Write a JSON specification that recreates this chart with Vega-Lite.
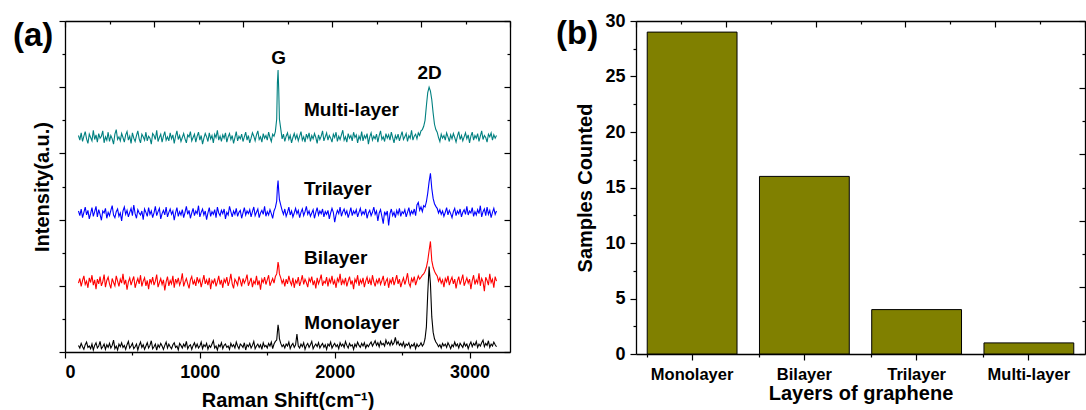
{
  "$schema": "https://vega.github.io/schema/vega-lite/v6.json",
  "background": "white",
  "padding": {"left": 12, "top": 12, "right": 0, "bottom": 0},
  "spacing": 45,
  "config": {
    "view": {"stroke": null},
    "font": "Liberation Sans",
    "axis": {"domainColor": "black", "tickColor": "black", "labelColor": "black", "titleColor": "black", "labelFont": "Liberation Sans", "titleFont": "Liberation Sans", "labelFontWeight": "bold", "titleFontWeight": "bold", "grid": false, "domainWidth": 1.3, "tickWidth": 1.2, "titleFontSize": 20, "labelFontSize": 18}
  },
  "datasets": {
    "raman": [
      {"x":100,"M":0.10,"B":1.04,"T":2.13,"U":3.27},
      {"x":110,"M":0.06,"B":1.11,"T":2.06,"U":3.20},
      {"x":120,"M":0.13,"B":0.99,"T":2.16,"U":3.31},
      {"x":130,"M":0.08,"B":1.08,"T":2.03,"U":3.18},
      {"x":140,"M":0.04,"B":1.15,"T":2.11,"U":3.26},
      {"x":150,"M":0.11,"B":1.02,"T":2.19,"U":3.33},
      {"x":160,"M":0.15,"B":1.07,"T":2.07,"U":3.22},
      {"x":170,"M":0.07,"B":0.97,"T":2.14,"U":3.15},
      {"x":180,"M":0.09,"B":1.12,"T":2.01,"U":3.29},
      {"x":190,"M":0.05,"B":1.05,"T":2.09,"U":3.24},
      {"x":200,"M":0.12,"B":1.16,"T":2.18,"U":3.19},
      {"x":210,"M":0.03,"B":1.01,"T":2.05,"U":3.35},
      {"x":220,"M":0.10,"B":1.09,"T":2.12,"U":3.21},
      {"x":230,"M":0.14,"B":0.95,"T":2.20,"U":3.28},
      {"x":240,"M":0.06,"B":1.10,"T":2.04,"U":3.17},
      {"x":250,"M":0.09,"B":1.03,"T":2.15,"U":3.30},
      {"x":260,"M":0.16,"B":1.14,"T":2.08,"U":3.23},
      {"x":270,"M":0.05,"B":1.00,"T":1.99,"U":3.26},
      {"x":280,"M":0.08,"B":1.06,"T":2.13,"U":3.34},
      {"x":290,"M":0.12,"B":1.17,"T":2.10,"U":3.16},
      {"x":300,"M":0.04,"B":0.98,"T":2.17,"U":3.25},
      {"x":310,"M":0.11,"B":1.08,"T":2.02,"U":3.20},
      {"x":320,"M":0.07,"B":1.13,"T":2.11,"U":3.32},
      {"x":330,"M":0.13,"B":1.03,"T":2.06,"U":3.18},
      {"x":340,"M":0.06,"B":0.96,"T":2.14,"U":3.27},
      {"x":350,"M":0.10,"B":1.11,"T":2.21,"U":3.22},
      {"x":360,"M":0.18,"B":1.05,"T":2.07,"U":3.14},
      {"x":370,"M":0.05,"B":1.00,"T":2.03,"U":3.29},
      {"x":380,"M":0.09,"B":1.15,"T":2.12,"U":3.36},
      {"x":390,"M":0.03,"B":1.07,"T":2.16,"U":3.21},
      {"x":400,"M":0.12,"B":0.99,"T":2.05,"U":3.25},
      {"x":410,"M":0.08,"B":1.10,"T":2.10,"U":3.19},
      {"x":420,"M":0.14,"B":1.04,"T":1.98,"U":3.30},
      {"x":430,"M":0.07,"B":1.18,"T":2.13,"U":3.24},
      {"x":440,"M":0.10,"B":1.02,"T":2.19,"U":3.17},
      {"x":450,"M":0.04,"B":1.09,"T":2.08,"U":3.28},
      {"x":460,"M":0.11,"B":0.94,"T":2.14,"U":3.33},
      {"x":470,"M":0.16,"B":1.06,"T":2.04,"U":3.20},
      {"x":480,"M":0.06,"B":1.12,"T":2.11,"U":3.26},
      {"x":490,"M":0.09,"B":1.01,"T":2.17,"U":3.15},
      {"x":500,"M":0.13,"B":1.08,"T":2.06,"U":3.31},
      {"x":510,"M":0.05,"B":1.14,"T":2.22,"U":3.23},
      {"x":520,"M":0.08,"B":0.97,"T":2.09,"U":3.18},
      {"x":530,"M":0.12,"B":1.05,"T":2.02,"U":3.27},
      {"x":540,"M":0.03,"B":1.11,"T":2.15,"U":3.34},
      {"x":550,"M":0.10,"B":1.03,"T":2.10,"U":3.22},
      {"x":560,"M":0.15,"B":1.16,"T":2.07,"U":3.16},
      {"x":570,"M":0.07,"B":0.99,"T":2.13,"U":3.29},
      {"x":580,"M":0.11,"B":1.07,"T":2.00,"U":3.25},
      {"x":590,"M":0.04,"B":1.12,"T":2.16,"U":3.20},
      {"x":600,"M":0.09,"B":1.00,"T":2.11,"U":3.32},
      {"x":610,"M":0.14,"B":1.08,"T":2.05,"U":3.19},
      {"x":620,"M":0.06,"B":0.95,"T":2.18,"U":3.26},
      {"x":630,"M":0.10,"B":1.10,"T":2.08,"U":3.23},
      {"x":640,"M":0.17,"B":1.04,"T":2.13,"U":3.14},
      {"x":650,"M":0.05,"B":1.13,"T":2.03,"U":3.30},
      {"x":660,"M":0.08,"B":1.01,"T":2.10,"U":3.27},
      {"x":670,"M":0.12,"B":1.07,"T":2.20,"U":3.21},
      {"x":680,"M":0.03,"B":1.17,"T":2.06,"U":3.35},
      {"x":690,"M":0.11,"B":0.98,"T":2.12,"U":3.18},
      {"x":700,"M":0.07,"B":1.05,"T":2.17,"U":3.24},
      {"x":710,"M":0.13,"B":1.11,"T":2.01,"U":3.29},
      {"x":720,"M":0.09,"B":1.02,"T":2.09,"U":3.17},
      {"x":730,"M":0.04,"B":1.09,"T":2.14,"U":3.26},
      {"x":740,"M":0.10,"B":0.93,"T":2.07,"U":3.33},
      {"x":750,"M":0.15,"B":1.06,"T":2.19,"U":3.20},
      {"x":760,"M":0.06,"B":1.14,"T":2.04,"U":3.25},
      {"x":770,"M":0.12,"B":1.00,"T":2.11,"U":3.19},
      {"x":780,"M":0.08,"B":1.08,"T":2.16,"U":3.31},
      {"x":790,"M":0.05,"B":1.03,"T":2.08,"U":3.22},
      {"x":800,"M":0.11,"B":1.15,"T":2.13,"U":3.28},
      {"x":810,"M":0.14,"B":0.97,"T":1.99,"U":3.15},
      {"x":820,"M":0.07,"B":1.10,"T":2.10,"U":3.26},
      {"x":830,"M":0.09,"B":1.04,"T":2.18,"U":3.34},
      {"x":840,"M":0.03,"B":1.12,"T":2.05,"U":3.21},
      {"x":850,"M":0.13,"B":1.01,"T":2.12,"U":3.27},
      {"x":860,"M":0.10,"B":1.07,"T":2.07,"U":3.18},
      {"x":870,"M":0.06,"B":1.19,"T":2.15,"U":3.24},
      {"x":880,"M":0.12,"B":0.99,"T":2.03,"U":3.30},
      {"x":890,"M":0.08,"B":1.06,"T":2.11,"U":3.22},
      {"x":900,"M":0.16,"B":1.11,"T":2.20,"U":3.16},
      {"x":910,"M":0.05,"B":1.03,"T":2.08,"U":3.28},
      {"x":920,"M":0.09,"B":0.96,"T":2.14,"U":3.25},
      {"x":930,"M":0.11,"B":1.09,"T":2.02,"U":3.33},
      {"x":940,"M":0.04,"B":1.14,"T":2.10,"U":3.19},
      {"x":950,"M":0.10,"B":1.02,"T":2.17,"U":3.24},
      {"x":960,"M":0.14,"B":1.08,"T":2.06,"U":3.29},
      {"x":970,"M":0.07,"B":1.00,"T":2.13,"U":3.17},
      {"x":980,"M":0.12,"B":1.13,"T":2.09,"U":3.26},
      {"x":990,"M":0.06,"B":1.05,"T":2.21,"U":3.32},
      {"x":1000,"M":0.09,"B":1.10,"T":2.04,"U":3.20},
      {"x":1010,"M":0.15,"B":0.98,"T":2.11,"U":3.27},
      {"x":1020,"M":0.05,"B":1.07,"T":2.16,"U":3.14},
      {"x":1030,"M":0.11,"B":1.16,"T":2.07,"U":3.23},
      {"x":1040,"M":0.08,"B":1.03,"T":2.13,"U":3.30},
      {"x":1050,"M":0.13,"B":1.09,"T":2.00,"U":3.25},
      {"x":1060,"M":0.04,"B":1.01,"T":2.10,"U":3.18},
      {"x":1070,"M":0.10,"B":1.12,"T":2.18,"U":3.31},
      {"x":1080,"M":0.07,"B":0.95,"T":2.05,"U":3.22},
      {"x":1090,"M":0.12,"B":1.08,"T":2.12,"U":3.27},
      {"x":1100,"M":0.17,"B":1.04,"T":2.08,"U":3.16},
      {"x":1110,"M":0.06,"B":1.11,"T":2.15,"U":3.29},
      {"x":1120,"M":0.09,"B":0.99,"T":2.03,"U":3.24},
      {"x":1130,"M":0.03,"B":1.06,"T":2.19,"U":3.35},
      {"x":1140,"M":0.11,"B":1.15,"T":2.10,"U":3.20},
      {"x":1150,"M":0.08,"B":1.02,"T":2.06,"U":3.26},
      {"x":1160,"M":0.14,"B":1.09,"T":2.14,"U":3.18},
      {"x":1170,"M":0.05,"B":0.97,"T":2.09,"U":3.28},
      {"x":1180,"M":0.10,"B":1.10,"T":2.16,"U":3.23},
      {"x":1190,"M":0.12,"B":1.05,"T":2.01,"U":3.31},
      {"x":1200,"M":0.07,"B":1.13,"T":2.11,"U":3.17},
      {"x":1210,"M":0.09,"B":1.00,"T":2.07,"U":3.25},
      {"x":1220,"M":0.04,"B":1.07,"T":2.20,"U":3.30},
      {"x":1230,"M":0.13,"B":1.18,"T":2.12,"U":3.21},
      {"x":1240,"M":0.08,"B":1.03,"T":2.04,"U":3.27},
      {"x":1250,"M":0.11,"B":0.96,"T":2.13,"U":3.15},
      {"x":1260,"M":0.06,"B":1.10,"T":2.08,"U":3.24},
      {"x":1270,"M":0.15,"B":1.06,"T":2.17,"U":3.33},
      {"x":1280,"M":0.09,"B":1.01,"T":2.05,"U":3.19},
      {"x":1290,"M":0.05,"B":1.14,"T":2.11,"U":3.26},
      {"x":1300,"M":0.12,"B":1.08,"T":2.14,"U":3.22},
      {"x":1310,"M":0.10,"B":0.99,"T":2.02,"U":3.29},
      {"x":1320,"M":0.07,"B":1.11,"T":2.10,"U":3.18},
      {"x":1330,"M":0.14,"B":1.04,"T":2.18,"U":3.25},
      {"x":1340,"M":0.03,"B":1.09,"T":2.07,"U":3.32},
      {"x":1350,"M":0.11,"B":1.17,"T":2.13,"U":3.20},
      {"x":1360,"M":0.08,"B":1.00,"T":2.09,"U":3.27},
      {"x":1370,"M":0.13,"B":1.06,"T":2.15,"U":3.16},
      {"x":1380,"M":0.06,"B":1.12,"T":2.04,"U":3.23},
      {"x":1390,"M":0.10,"B":0.98,"T":2.12,"U":3.31},
      {"x":1400,"M":0.16,"B":1.07,"T":2.19,"U":3.26},
      {"x":1410,"M":0.05,"B":1.03,"T":2.06,"U":3.19},
      {"x":1420,"M":0.09,"B":1.15,"T":2.11,"U":3.28},
      {"x":1430,"M":0.12,"B":1.01,"T":2.16,"U":3.34},
      {"x":1440,"M":0.07,"B":1.08,"T":2.03,"U":3.21},
      {"x":1450,"M":0.11,"B":0.94,"T":2.10,"U":3.25},
      {"x":1460,"M":0.04,"B":1.10,"T":2.14,"U":3.17},
      {"x":1470,"M":0.14,"B":1.05,"T":2.08,"U":3.30},
      {"x":1480,"M":0.08,"B":1.13,"T":2.20,"U":3.23},
      {"x":1490,"M":0.10,"B":1.02,"T":2.05,"U":3.27},
      {"x":1500,"M":0.06,"B":1.09,"T":2.12,"U":3.20},
      {"x":1510,"M":0.13,"B":1.16,"T":2.07,"U":3.32},
      {"x":1520,"M":0.09,"B":1.00,"T":2.15,"U":3.24},
      {"x":1530,"M":0.15,"B":1.06,"T":2.09,"U":3.18},
      {"x":1540,"M":0.05,"B":1.11,"T":2.02,"U":3.29},
      {"x":1550,"M":0.12,"B":1.04,"T":2.13,"U":3.26},
      {"x":1560,"M":0.16,"B":1.14,"T":2.18,"U":3.33},
      {"x":1570,"M":0.18,"B":1.18,"T":2.28,"U":3.52},
      {"x":1575,"M":0.30,"B":1.26,"T":2.48,"U":4.06},
      {"x":1580,"M":0.41,"B":1.36,"T":2.59,"U":4.26},
      {"x":1585,"M":0.34,"B":1.30,"T":2.43,"U":3.96},
      {"x":1590,"M":0.20,"B":1.18,"T":2.30,"U":3.52},
      {"x":1600,"M":0.13,"B":1.12,"T":2.22,"U":3.37},
      {"x":1610,"M":0.08,"B":1.04,"T":2.14,"U":3.22},
      {"x":1620,"M":0.11,"B":1.09,"T":2.08,"U":3.29},
      {"x":1630,"M":0.06,"B":0.99,"T":2.16,"U":3.18},
      {"x":1640,"M":0.12,"B":1.10,"T":2.05,"U":3.26},
      {"x":1650,"M":0.09,"B":1.03,"T":2.11,"U":3.31},
      {"x":1660,"M":0.15,"B":1.15,"T":2.19,"U":3.21},
      {"x":1670,"M":0.05,"B":1.06,"T":2.07,"U":3.27},
      {"x":1680,"M":0.10,"B":1.01,"T":2.13,"U":3.16},
      {"x":1690,"M":0.13,"B":1.12,"T":2.04,"U":3.24},
      {"x":1700,"M":0.07,"B":0.97,"T":2.10,"U":3.30},
      {"x":1710,"M":0.11,"B":1.08,"T":2.17,"U":3.22},
      {"x":1720,"M":0.27,"B":1.04,"T":2.09,"U":3.28},
      {"x":1730,"M":0.09,"B":1.13,"T":2.14,"U":3.19},
      {"x":1740,"M":0.06,"B":1.00,"T":2.03,"U":3.26},
      {"x":1750,"M":0.12,"B":1.07,"T":2.11,"U":3.33},
      {"x":1760,"M":0.08,"B":1.16,"T":2.16,"U":3.20},
      {"x":1770,"M":0.14,"B":1.02,"T":2.06,"U":3.25},
      {"x":1780,"M":0.04,"B":1.10,"T":2.12,"U":3.17},
      {"x":1790,"M":0.10,"B":1.05,"T":2.20,"U":3.29},
      {"x":1800,"M":0.13,"B":0.98,"T":2.08,"U":3.23},
      {"x":1810,"M":0.07,"B":1.11,"T":2.13,"U":3.31},
      {"x":1820,"M":0.11,"B":1.06,"T":2.05,"U":3.18},
      {"x":1830,"M":0.16,"B":1.14,"T":2.10,"U":3.27},
      {"x":1840,"M":0.05,"B":1.01,"T":2.15,"U":3.22},
      {"x":1850,"M":0.09,"B":1.08,"T":2.02,"U":3.30},
      {"x":1860,"M":0.12,"B":0.96,"T":2.11,"U":3.24},
      {"x":1870,"M":0.08,"B":1.12,"T":2.18,"U":3.15},
      {"x":1880,"M":0.14,"B":1.03,"T":2.07,"U":3.28},
      {"x":1890,"M":0.06,"B":1.09,"T":2.13,"U":3.21},
      {"x":1900,"M":0.10,"B":1.17,"T":2.09,"U":3.26},
      {"x":1910,"M":0.13,"B":1.00,"T":2.16,"U":3.34},
      {"x":1920,"M":0.07,"B":1.07,"T":2.04,"U":3.19},
      {"x":1930,"M":0.11,"B":1.04,"T":2.12,"U":3.25},
      {"x":1940,"M":0.04,"B":1.13,"T":2.08,"U":3.31},
      {"x":1950,"M":0.12,"B":0.99,"T":2.14,"U":3.20},
      {"x":1960,"M":0.09,"B":1.10,"T":2.01,"U":3.27},
      {"x":1970,"M":0.15,"B":1.05,"T":2.10,"U":3.23},
      {"x":1980,"M":0.06,"B":1.15,"T":2.17,"U":3.17},
      {"x":1990,"M":0.10,"B":1.02,"T":2.11,"U":3.29},
      {"x":2000,"M":0.13,"B":1.08,"T":1.96,"U":3.24},
      {"x":2010,"M":0.08,"B":0.97,"T":2.07,"U":3.32},
      {"x":2020,"M":0.11,"B":1.11,"T":2.14,"U":3.18},
      {"x":2030,"M":0.05,"B":1.06,"T":2.09,"U":3.26},
      {"x":2040,"M":0.14,"B":1.18,"T":2.19,"U":3.21},
      {"x":2050,"M":0.09,"B":1.01,"T":2.05,"U":3.28},
      {"x":2060,"M":0.12,"B":1.09,"T":2.12,"U":3.35},
      {"x":2070,"M":0.07,"B":1.03,"T":2.16,"U":3.20},
      {"x":2080,"M":0.16,"B":1.12,"T":2.08,"U":3.25},
      {"x":2090,"M":0.10,"B":0.99,"T":2.13,"U":3.17},
      {"x":2100,"M":0.06,"B":1.07,"T":2.03,"U":3.30},
      {"x":2110,"M":0.13,"B":1.14,"T":2.10,"U":3.23},
      {"x":2120,"M":0.09,"B":1.02,"T":2.18,"U":3.27},
      {"x":2130,"M":0.11,"B":1.08,"T":2.06,"U":3.19},
      {"x":2140,"M":0.04,"B":0.95,"T":2.13,"U":3.32},
      {"x":2150,"M":0.12,"B":1.10,"T":2.09,"U":3.24},
      {"x":2160,"M":0.08,"B":1.05,"T":2.15,"U":3.28},
      {"x":2170,"M":0.15,"B":1.16,"T":2.04,"U":3.16},
      {"x":2180,"M":0.10,"B":1.00,"T":2.11,"U":3.26},
      {"x":2190,"M":0.07,"B":1.09,"T":2.17,"U":3.21},
      {"x":2200,"M":0.13,"B":1.04,"T":2.07,"U":3.33},
      {"x":2210,"M":0.09,"B":1.12,"T":2.12,"U":3.19},
      {"x":2220,"M":0.14,"B":0.98,"T":2.08,"U":3.27},
      {"x":2230,"M":0.06,"B":1.07,"T":2.16,"U":3.23},
      {"x":2240,"M":0.11,"B":1.13,"T":2.02,"U":3.30},
      {"x":2250,"M":0.08,"B":1.03,"T":2.10,"U":3.14},
      {"x":2260,"M":0.12,"B":1.10,"T":2.14,"U":3.25},
      {"x":2270,"M":0.15,"B":1.01,"T":2.06,"U":3.31},
      {"x":2280,"M":0.09,"B":1.16,"T":2.11,"U":3.20},
      {"x":2290,"M":0.13,"B":1.06,"T":2.19,"U":3.26},
      {"x":2300,"M":0.17,"B":0.99,"T":2.08,"U":3.22},
      {"x":2310,"M":0.10,"B":1.09,"T":2.13,"U":3.29},
      {"x":2320,"M":0.14,"B":1.04,"T":1.98,"U":3.17},
      {"x":2330,"M":0.08,"B":1.12,"T":2.10,"U":3.27},
      {"x":2340,"M":0.16,"B":1.02,"T":2.15,"U":3.34},
      {"x":2350,"M":0.11,"B":1.08,"T":2.05,"U":3.21},
      {"x":2360,"M":0.13,"B":1.15,"T":1.94,"U":3.25},
      {"x":2370,"M":0.09,"B":1.00,"T":2.12,"U":3.18},
      {"x":2380,"M":0.18,"B":1.07,"T":2.07,"U":3.30},
      {"x":2390,"M":0.12,"B":1.11,"T":2.13,"U":3.23},
      {"x":2400,"M":0.15,"B":0.97,"T":1.91,"U":3.28},
      {"x":2410,"M":0.10,"B":1.09,"T":2.09,"U":3.20},
      {"x":2420,"M":0.17,"B":1.04,"T":2.16,"U":3.32},
      {"x":2430,"M":0.11,"B":1.13,"T":2.06,"U":3.24},
      {"x":2440,"M":0.14,"B":1.01,"T":2.11,"U":3.16},
      {"x":2450,"M":0.22,"B":1.08,"T":2.03,"U":3.27},
      {"x":2460,"M":0.12,"B":1.16,"T":2.14,"U":3.22},
      {"x":2470,"M":0.16,"B":1.03,"T":2.08,"U":3.29},
      {"x":2480,"M":0.10,"B":1.10,"T":2.17,"U":3.19},
      {"x":2490,"M":0.13,"B":0.98,"T":2.05,"U":3.26},
      {"x":2500,"M":0.09,"B":1.06,"T":2.12,"U":3.33},
      {"x":2510,"M":0.15,"B":1.12,"T":2.09,"U":3.21},
      {"x":2520,"M":0.07,"B":1.02,"T":2.15,"U":3.25},
      {"x":2530,"M":0.12,"B":1.09,"T":2.04,"U":3.30},
      {"x":2540,"M":0.10,"B":1.19,"T":2.11,"U":3.18},
      {"x":2550,"M":0.14,"B":1.04,"T":2.18,"U":3.27},
      {"x":2560,"M":0.06,"B":0.99,"T":2.07,"U":3.23},
      {"x":2570,"M":0.11,"B":1.11,"T":2.13,"U":3.35},
      {"x":2580,"M":0.09,"B":1.06,"T":2.09,"U":3.20},
      {"x":2590,"M":0.13,"B":1.14,"T":2.16,"U":3.26},
      {"x":2600,"M":0.05,"B":1.01,"T":2.06,"U":3.29},
      {"x":2610,"M":0.12,"B":1.08,"T":2.22,"U":3.22},
      {"x":2620,"M":0.08,"B":1.15,"T":2.26,"U":3.31},
      {"x":2630,"M":0.10,"B":1.10,"T":2.14,"U":3.27},
      {"x":2640,"M":0.14,"B":1.13,"T":2.19,"U":3.34},
      {"x":2650,"M":0.09,"B":1.16,"T":2.12,"U":3.36},
      {"x":2660,"M":0.12,"B":1.18,"T":2.21,"U":3.41},
      {"x":2670,"M":0.20,"B":1.22,"T":2.19,"U":3.50},
      {"x":2680,"M":0.38,"B":1.28,"T":2.27,"U":3.72},
      {"x":2690,"M":0.88,"B":1.38,"T":2.40,"U":3.92},
      {"x":2700,"M":1.29,"B":1.53,"T":2.57,"U":4.00},
      {"x":2710,"M":1.03,"B":1.67,"T":2.70,"U":3.94},
      {"x":2720,"M":0.53,"B":1.38,"T":2.47,"U":3.81},
      {"x":2730,"M":0.30,"B":1.28,"T":2.32,"U":3.61},
      {"x":2740,"M":0.20,"B":1.22,"T":2.24,"U":3.44},
      {"x":2750,"M":0.15,"B":1.18,"T":2.20,"U":3.36},
      {"x":2760,"M":0.12,"B":1.15,"T":2.17,"U":3.32},
      {"x":2770,"M":0.08,"B":1.07,"T":2.10,"U":3.24},
      {"x":2780,"M":0.11,"B":1.12,"T":2.15,"U":3.18},
      {"x":2790,"M":0.06,"B":1.04,"T":2.08,"U":3.29},
      {"x":2800,"M":0.13,"B":1.09,"T":2.13,"U":3.23},
      {"x":2810,"M":0.09,"B":0.98,"T":2.05,"U":3.27},
      {"x":2820,"M":0.12,"B":1.11,"T":2.11,"U":3.20},
      {"x":2830,"M":0.07,"B":1.06,"T":2.18,"U":3.31},
      {"x":2840,"M":0.14,"B":1.15,"T":2.07,"U":3.25},
      {"x":2850,"M":0.10,"B":1.01,"T":2.14,"U":3.18},
      {"x":2860,"M":0.05,"B":1.08,"T":2.09,"U":3.28},
      {"x":2870,"M":0.11,"B":1.13,"T":2.03,"U":3.22},
      {"x":2880,"M":0.08,"B":1.03,"T":2.12,"U":3.30},
      {"x":2890,"M":0.15,"B":1.10,"T":2.17,"U":3.24},
      {"x":2900,"M":0.09,"B":0.96,"T":2.06,"U":3.17},
      {"x":2910,"M":0.12,"B":1.07,"T":2.13,"U":3.26},
      {"x":2920,"M":0.06,"B":1.14,"T":2.09,"U":3.33},
      {"x":2930,"M":0.13,"B":1.02,"T":2.16,"U":3.21},
      {"x":2940,"M":0.10,"B":1.09,"T":2.04,"U":3.27},
      {"x":2950,"M":0.07,"B":1.17,"T":2.11,"U":3.19},
      {"x":2960,"M":0.14,"B":1.00,"T":2.15,"U":3.25},
      {"x":2970,"M":0.09,"B":1.06,"T":2.08,"U":3.31},
      {"x":2980,"M":0.12,"B":1.12,"T":2.20,"U":3.22},
      {"x":2990,"M":0.05,"B":1.04,"T":2.07,"U":3.28},
      {"x":3000,"M":0.11,"B":1.10,"T":2.13,"U":3.16},
      {"x":3010,"M":0.15,"B":0.95,"T":2.10,"U":3.26},
      {"x":3020,"M":0.08,"B":1.08,"T":2.18,"U":3.32},
      {"x":3030,"M":0.13,"B":1.16,"T":2.05,"U":3.20},
      {"x":3040,"M":0.10,"B":1.02,"T":2.12,"U":3.27},
      {"x":3050,"M":0.16,"B":1.09,"T":2.07,"U":3.23},
      {"x":3060,"M":0.07,"B":1.04,"T":2.15,"U":3.30},
      {"x":3070,"M":0.12,"B":1.19,"T":2.09,"U":3.18},
      {"x":3080,"M":0.09,"B":1.00,"T":2.21,"U":3.26},
      {"x":3090,"M":0.14,"B":1.11,"T":2.04,"U":3.34},
      {"x":3100,"M":0.18,"B":1.06,"T":2.12,"U":3.21},
      {"x":3110,"M":0.08,"B":0.92,"T":2.16,"U":3.27},
      {"x":3120,"M":0.13,"B":1.13,"T":2.06,"U":3.24},
      {"x":3130,"M":0.10,"B":1.08,"T":2.19,"U":3.17},
      {"x":3140,"M":0.17,"B":1.01,"T":2.08,"U":3.29},
      {"x":3150,"M":0.07,"B":1.18,"T":2.14,"U":3.25},
      {"x":3160,"M":0.12,"B":1.05,"T":2.03,"U":3.31},
      {"x":3170,"M":0.09,"B":1.10,"T":2.11,"U":3.20},
      {"x":3180,"M":0.15,"B":0.97,"T":2.17,"U":3.28},
      {"x":3190,"M":0.11,"B":1.14,"T":2.08,"U":3.23},
      {"x":3200,"M":0.08,"B":1.07,"T":2.13,"U":3.27}
    ],
    "peaks": [
      {"x": 1585, "y": 4.44, "label": "G"},
      {"x": 2704, "y": 4.21, "label": "2D"}
    ],
    "names": [
      {"x": 1772, "y": 3.66, "label": "Multi-layer"},
      {"x": 1772, "y": 2.46, "label": "Trilayer"},
      {"x": 1772, "y": 1.42, "label": "Bilayer"},
      {"x": 1775, "y": 0.44, "label": "Monolayer"}
    ],
    "panelA": [{"x": -1.17, "y": 4.77, "label": "(a)"}],
    "panelB": [{"x": -1.78, "y": 28.8, "label": "(b)"}],
    "bars": [
      {"layer": "Monolayer", "count": 29},
      {"layer": "Bilayer", "count": 16},
      {"layer": "Trilayer", "count": 4},
      {"layer": "Multi-layer", "count": 1}
    ]
  },
  "hconcat": [
    {
      "width": 445,
      "height": 331,
      "resolve": {"scale": {"x": "independent"}, "axis": {"x": "independent", "y": "independent"}},
      "layer": [
        {
          "data": {"name": "raman"},
          "transform": [{"fold": ["M", "B", "T", "U"], "as": ["s", "v"]}],
          "mark": {"type": "line", "strokeWidth": 1.1, "interpolate": "linear"},
          "encoding": {
            "x": {"field": "x", "type": "quantitative", "scale": {"domain": [0, 3300], "nice": false, "zero": false},
                  "axis": {"orient": "bottom", "values": [0, 1000, 2000, 3000], "format": "d", "tickSize": 6, "labelPadding": 5, "title": "Raman Shift(cm⁻¹)", "titlePadding": 9}},
            "y": {"field": "v", "type": "quantitative", "scale": {"domain": [0, 5], "nice": false, "zero": false},
                  "axis": {"orient": "left", "values": [0, 1, 2, 3, 4, 5], "labels": false, "tickSize": 6, "title": "Intensity(a.u.)", "titlePadding": 6}},
            "color": {"field": "s", "type": "nominal", "scale": {"domain": ["M", "B", "T", "U"], "range": ["#000000", "#FF0000", "#0000FF", "#008080"]}, "legend": null}
          }
        },
        {
          "data": {"name": "peaks"},
          "mark": {"type": "text", "align": "center", "baseline": "middle", "fontSize": 19, "fontWeight": "bold", "font": "Liberation Sans", "color": "black"},
          "encoding": {
            "x": {"field": "x", "type": "quantitative", "scale": {"domain": [0, 3300], "nice": false, "zero": false},
                  "axis": {"orient": "bottom", "values": [500, 1500, 2500], "labels": false, "domain": false, "tickSize": 3, "title": null}},
            "y": {"field": "y", "type": "quantitative",
                  "axis": {"orient": "right", "values": [0, 1, 2, 3, 4, 5], "labels": false, "tickSize": -6, "title": null}},
            "text": {"field": "label"}
          }
        },
        {
          "data": {"name": "names"},
          "mark": {"type": "text", "align": "left", "baseline": "middle", "fontSize": 19, "fontWeight": "bold", "font": "Liberation Sans", "color": "black"},
          "encoding": {
            "x": {"field": "x", "type": "quantitative", "scale": {"domain": [0, 3300], "nice": false, "zero": false}, "axis": null},
            "y": {"field": "y", "type": "quantitative",
                  "axis": {"orient": "left", "values": [0.5, 1.5, 2.5, 3.5, 4.5], "labels": false, "domain": false, "tickSize": 3, "title": null}},
            "text": {"field": "label"}
          }
        },
        {
          "data": {"name": "panelA"},
          "mark": {"type": "text", "align": "left", "baseline": "middle", "fontSize": 33, "fontWeight": "bold", "font": "Liberation Sans", "color": "black", "clip": false},
          "encoding": {
            "x": {"field": "x", "type": "quantitative", "scale": {"domain": [0, 10], "nice": false, "zero": false},
                  "axis": {"orient": "top", "values": [0, 2, 4, 6, 8, 10], "labels": false, "tickSize": -6, "title": null}},
            "y": {"field": "y", "type": "quantitative",
                  "axis": {"orient": "right", "values": [0.5, 1.5, 2.5, 3.5, 4.5], "labels": false, "domain": false, "tickSize": -3, "title": null}},
            "text": {"field": "label"}
          }
        },
        {
          "data": {"values": [{}]},
          "mark": {"type": "point", "opacity": 0},
          "encoding": {
            "x": {"datum": 0, "type": "quantitative", "scale": {"domain": [0, 10], "nice": false, "zero": false},
                  "axis": {"orient": "top", "values": [1, 3, 5, 7, 9], "labels": false, "domain": false, "tickSize": -3, "title": null}},
            "y": {"datum": 0, "type": "quantitative", "axis": null}
          }
        }
      ]
    },
    {
      "width": 449,
      "height": 333,
      "resolve": {"scale": {"x": "independent"}, "axis": {"x": "independent", "y": "independent"}},
      "layer": [
        {
          "data": {"name": "bars"},
          "mark": {"type": "bar", "fill": "#808000", "stroke": "black", "strokeWidth": 1},
          "encoding": {
            "x": {"field": "layer", "type": "nominal", "sort": ["Monolayer", "Bilayer", "Trilayer", "Multi-layer"],
                  "scale": {"paddingInner": 0.2, "paddingOuter": 0.1},
                  "axis": {"orient": "bottom", "labelAngle": 0, "labelFontSize": 16.5, "tickSize": 6, "labelPadding": 6, "title": "Layers of graphene", "titlePadding": 1}},
            "y": {"field": "count", "type": "quantitative", "scale": {"domain": [0, 30], "nice": false},
                  "axis": {"orient": "left", "values": [0, 5, 10, 15, 20, 25, 30], "tickSize": 6, "labelPadding": 5, "title": "Samples Counted", "titlePadding": 9}}
          }
        },
        {
          "data": {"name": "bars"},
          "mark": {"type": "bar", "opacity": 0},
          "encoding": {
            "x": {"field": "layer", "type": "nominal", "sort": ["Monolayer", "Bilayer", "Trilayer", "Multi-layer"],
                  "scale": {"paddingInner": 0.2, "paddingOuter": 0.1},
                  "axis": {"orient": "bottom", "bandPosition": 0, "labels": false, "domain": false, "tickSize": 3, "title": null}},
            "y": {"field": "count", "type": "quantitative",
                  "axis": {"orient": "left", "values": [2.5, 7.5, 12.5, 17.5, 22.5, 27.5], "labels": false, "domain": false, "tickSize": 3, "title": null}}
          }
        },
        {
          "data": {"name": "panelB"},
          "mark": {"type": "text", "align": "left", "baseline": "middle", "fontSize": 33, "fontWeight": "bold", "font": "Liberation Sans", "color": "black", "clip": false},
          "encoding": {
            "x": {"field": "x", "type": "quantitative", "scale": {"domain": [0, 10], "nice": false, "zero": false},
                  "axis": {"orient": "top", "values": [0, 2, 4, 6, 8, 10], "labels": false, "tickSize": -6, "title": null}},
            "y": {"field": "y", "type": "quantitative",
                  "axis": {"orient": "right", "values": [0, 6, 12, 18, 24, 30], "labels": false, "tickSize": -6, "title": null}},
            "text": {"field": "label"}
          }
        },
        {
          "data": {"values": [{}]},
          "mark": {"type": "point", "opacity": 0},
          "encoding": {
            "x": {"datum": 0, "type": "quantitative", "scale": {"domain": [0, 10], "nice": false, "zero": false},
                  "axis": {"orient": "top", "values": [1, 3, 5, 7, 9], "labels": false, "domain": false, "tickSize": -3, "title": null}},
            "y": {"datum": 0, "type": "quantitative",
                  "axis": {"orient": "right", "values": [3, 9, 15, 21, 27], "labels": false, "domain": false, "tickSize": -3, "title": null}}
          }
        }
      ]
    }
  ]
}
